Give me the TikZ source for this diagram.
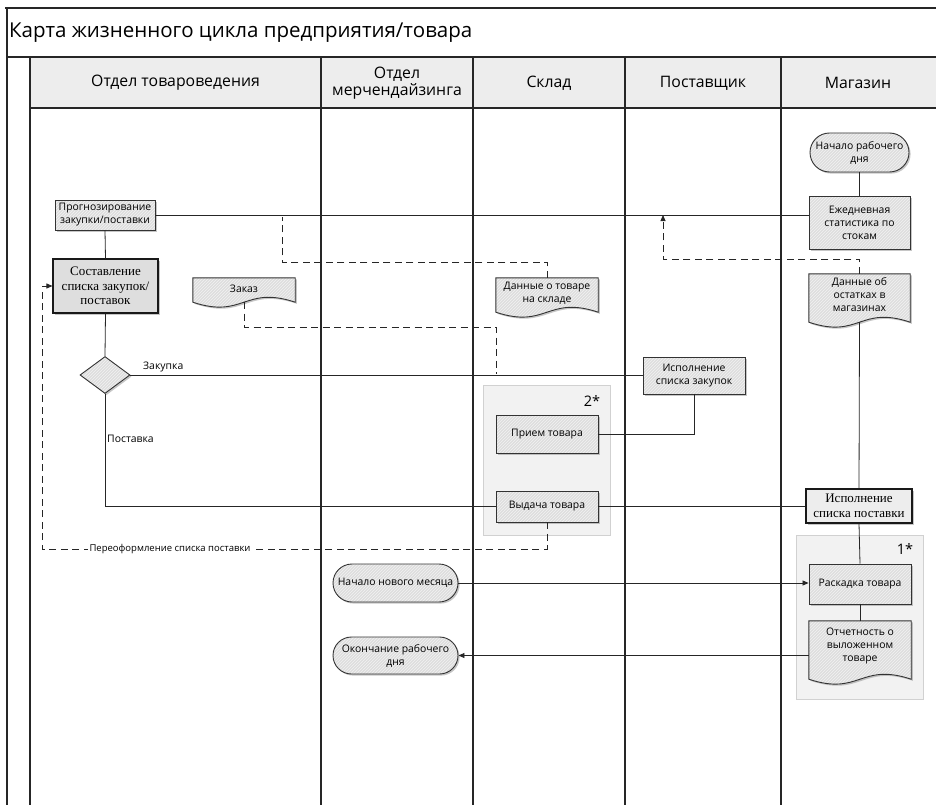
\documentclass[tikz,border=0pt]{standalone}
\usepackage{fontspec}
\setmainfont{Open Sans}
\newfontfamily\serifru{Liberation Serif}
\usetikzlibrary{shapes.geometric,shapes.misc,shadows,patterns,arrows.meta,calc}
\tikzset{
  lane/.style={line width=1.1pt, draw=black!85},
  conn/.style={line width=0.8pt, draw=black!85},
  dconn/.style={conn, dash pattern=on 7pt off 4.5pt},
  arr/.style={-{Triangle[length=6pt,width=5pt]}},
  shad/.style={drop shadow={shadow xshift=1.6pt,shadow yshift=-1.6pt,fill=black!50,opacity=0.45}},
  hatch/.style={preaction={fill=black!13}, preaction={pattern=north east lines, pattern color=black!5}},
  smallfont/.style={font=\fontsize{10.4}{13}\selectfont},
  proc/.style={rectangle, shad, hatch, draw=black!80, line width=0.9pt, align=center, inner sep=1pt, smallfont},
  serproc/.style={rectangle, shad, draw=black!90, line width=1.1pt, align=center, inner sep=1pt, font=\serifru\fontsize{13}{14.5}\selectfont},
  term/.style={rounded rectangle, shad, hatch, draw=black!80, line width=0.9pt, align=center, inner sep=1pt, smallfont},
  docbox/.style={rectangle, draw=none, inner sep=0pt},
  docpath/.style={shad, hatch, draw=black!80, line width=0.9pt},
  doctext/.style={align=center, smallfont},
  groupbox/.style={draw=black!18, fill=black!5, line width=0.8pt},
  lanehead/.style={align=center, font=\fontsize{15.8}{17}\selectfont},
  lbl/.style={smallfont, inner sep=1pt}
}
\newcommand\docshape[1]{%
  \path[docpath] (#1.north west) -- (#1.north east) -- (#1.south east)
    .. controls ($(#1.south)+(0,-17)$) and ($(#1.south)+(0,17)$) .. (#1.south west) -- cycle;}
\begin{document}
\begin{tikzpicture}[x=1pt,y=-1pt]
\useasboundingbox (0,0) rectangle (936,805);
% frame and lanes
\fill[black!7] (30,57) rectangle (936,108);
\draw[lane] (5,8) -- (936,8);
\draw[lane] (7,8) -- (7,805);
\draw[lane] (7,57) -- (936,57);
\draw[lane] (30,108) -- (936,108);
\foreach \xx in {30,321,473,625,781} \draw[lane] (\xx,57) -- (\xx,805);
\node[anchor=west, font=\fontsize{20.5}{23}\selectfont, inner sep=0pt] (title) at (9,33) {Карта жизненного цикла предприятия/товара};
\node[lanehead] (h1) at (175.5,83) {Отдел товароведения};
\node[lanehead] (h2) at (397,83) {Отдел\\мерчендайзинга};
\node[lanehead] (h3) at (549,83) {Склад};
\node[lanehead] (h4) at (703,83) {Поставщик};
\node[lanehead] (h5) at (858,83) {Магазин};
% group boxes
\draw[groupbox] (483,385) rectangle (610,535);
\node[font=\fontsize{14.5}{16}\selectfont] (g2) at (592,401) {2*};
\draw[groupbox] (796,535) rectangle (923,699);
\node[font=\fontsize{14.5}{16}\selectfont] (g1) at (905,549) {1*};
% nodes
\node[proc, minimum width=100, minimum height=30] (prog) at (105,215) {Прогнозирование\\закупки/поставки};
\node[serproc, fill=black!13, minimum width=105, minimum height=54] (sost) at (105.5,286) {Составление\\списка закупок/\\поставок};
\node[diamond, shad, hatch, draw=black!80, line width=0.9pt, minimum width=50, minimum height=37, inner sep=0pt] (dia) at (105,375) {};
\node[term, minimum width=101, minimum height=39] (start) at (859.5,152.5) {Начало рабочего\\дня};
\node[proc, minimum width=101, minimum height=53] (stat) at (859.5,222.5) {Ежедневная\\статистика по\\стокам};
\node[proc, minimum width=102, minimum height=37] (ispzak) at (694,375.5) {Исполнение\\списка закупок};
\node[proc, minimum width=102, minimum height=38] (priem) at (547,434) {Прием товара};
\node[proc, minimum width=102, minimum height=31] (vyd) at (547,506.5) {Выдача товара};
\node[serproc, fill=black!7, minimum width=106, minimum height=34] (isppost) at (859,506) {Исполнение\\списка поставки};
\node[proc, minimum width=102, minimum height=40] (rask) at (860,584) {Раскадка товара};
\node[term, minimum width=127, minimum height=38] (newm) at (395.5,583) {Начало нового месяца};
\node[term, minimum width=127, minimum height=37] (endd) at (395.5,655.5) {Окончание рабочего\\дня};
% documents
\node[docbox, minimum width=102, minimum height=24] (zak) at (244,290) {};
\docshape{zak}
\node[doctext] (zakt) at (244,289) {Заказ};
\node[docbox, minimum width=102, minimum height=34] (dsk) at (547,295) {};
\docshape{dsk}
\node[doctext] (dskt) at (547,293) {Данные о товаре\\на складе};
\node[docbox, minimum width=101, minimum height=48] (ost) at (859.5,298) {};
\docshape{ost}
\node[doctext] (ostt) at (859.5,295) {Данные об\\остатках в\\магазинах};
\node[docbox, minimum width=102, minimum height=58] (otch) at (860,650) {};
\docshape{otch}
\node[doctext] (otcht) at (860,646) {Отчетность о\\выложенном\\товаре};
% coordinates for free ends
\coordinate (a1) at (663,215);
\coordinate (c1) at (282,217);
\coordinate (c2) at (496,374);
% connectors
\draw[conn] (prog.east) -- (prog.east -| stat.west);
\draw[conn] (prog.south) -- (sost.north);
\draw[conn] (sost.south) -- (dia.north);
\draw[conn] (dia.east) -- (dia.east -| ispzak.west);
\node[lbl, anchor=south west] (lz) at (142,373) {Закупка};
\draw[conn] (dia.south) |- (vyd.west);
\node[lbl, anchor=west] (lp) at (106,439) {Поставка};
\draw[conn] (vyd.east) -- (vyd.east -| isppost.west);
\draw[conn] (ispzak.south) |- (priem.east);
\draw[conn] (start.south) -- (stat.north);
\draw[conn] (ost.south) -- (isppost.north);
\draw[conn] (isppost.south) -- (rask.north);
\draw[conn] (rask.south) -- (otch.north);
\draw[conn, arr] (newm.east) -- (newm.east -| rask.west);
\draw[conn, arr] (endd.east -| otch.west) -- (endd.east);
% dashed connectors
\draw[dconn, arr] (ost.north) |- (663,259) -- (a1);
\draw[dconn] (dsk.north) |- (282,262) -- (c1);
\draw[dconn] (zak.south) |- (496,327) -- (c2);
\draw[dconn, arr] (vyd.south) |- (42,549) |- (sost.west);
\node[fill=white, inner sep=1.5pt, font=\fontsize{9.5}{11}\selectfont] (lre) at (170,549) {Переоформление списка поставки};
\end{tikzpicture}
\end{document}
